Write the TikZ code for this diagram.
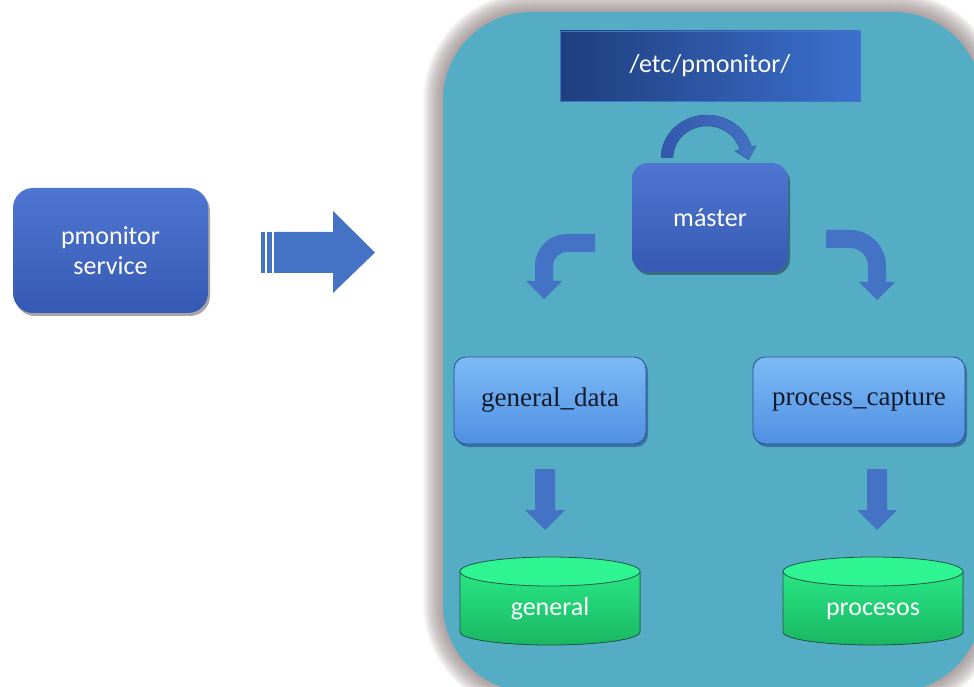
\documentclass[tikz,border=0pt]{standalone}
\usepackage{fontspec}
\setmainfont{Liberation Serif}
\newfontfamily\calfont{Carlito}
\usetikzlibrary{calc,shadows}

\definecolor{panelteal}{RGB}{84,173,196}
\definecolor{halogray}{RGB}{140,124,124}
\definecolor{arrowblue}{RGB}{68,114,196}
\definecolor{arrowdark}{RGB}{50,88,172}
\definecolor{boxtop}{RGB}{78,118,208}
\definecolor{boxbot}{RGB}{54,90,180}
\definecolor{hdrleft}{RGB}{30,62,125}
\definecolor{hdrright}{RGB}{60,112,206}
\definecolor{bevtop}{RGB}{124,186,246}
\definecolor{bevbot}{RGB}{80,144,226}
\definecolor{bevedge}{RGB}{40,78,140}
\definecolor{dbtop}{RGB}{46,244,146}
\definecolor{dbbodytop}{RGB}{40,230,132}
\definecolor{dbbodybot}{RGB}{26,182,98}
\definecolor{dbedge}{RGB}{34,86,72}
\definecolor{labeldark}{RGB}{18,26,44}

\tikzset{
  calibri/.style={font=\calfont\fontsize{26}{30}\selectfont, text=white},
  seriflabel/.style={font=\fontsize{27}{30}\selectfont, text=labeldark},
  darkbox/.style={calibri, top color=boxtop, bottom color=boxbot, inner sep=0pt,
    align=center, drop shadow={shadow xshift=2pt, shadow yshift=-3pt, opacity=0.35, fill=black}},
  bevelbox/.style={seriflabel, rounded corners=12pt, top color=bevtop, bottom color=bevbot,
    draw=bevedge, line width=0.8pt, minimum height=87pt, inner sep=0pt,
    drop shadow={shadow xshift=2pt, shadow yshift=-3pt, opacity=0.6, fill=bevedge}},
  blockarrow/.style={fill=arrowblue},
}

% cylinder store: #1 centre x, #2 node name, #3 label
\newcommand{\dbstore}[3]{%
  \fill[top color=dbbodytop, bottom color=dbbodybot]
    (#1-90,114.5) -- (#1-90,54) arc[start angle=180, end angle=360, x radius=90, y radius=13]
    -- (#1+90,114.5) -- cycle;
  \draw[dbedge, line width=0.8pt]
    (#1-90,114.5) -- (#1-90,54) arc[start angle=180, end angle=360, x radius=90, y radius=13]
    -- (#1+90,114.5);
  \filldraw[fill=dbtop, draw=dbedge, line width=0.8pt] (#1,114.5) ellipse[x radius=90, y radius=14.5];
  \node[calibri, anchor=base] (#2) at (#1,71) {#3};
}

\begin{document}
\begin{tikzpicture}[x=1pt, y=1pt]
\useasboundingbox (0,0) rectangle (974,686);
\fill[white] (0,0) rectangle (974,686);

% soft grey halo around the directory panel
\foreach \i in {1,...,20}{
  \pgfmathsetmacro\rr{88+\i}
  \fill[halogray, opacity=0.05, rounded corners=\rr pt] (443-\i,-6-\i) rectangle (982+\i,674+\i);
}
\fill[panelteal, rounded corners=88pt] (443,-6) rectangle (982,674);

% service box and the wide arrow into the panel
\node[darkbox, rounded corners=20pt, minimum width=195pt, minimum height=125pt]
  (service) at (110.5,435.5) {pmonitor\\service};
\fill[blockarrow] (261,413) rectangle (265,454);
\fill[blockarrow] (267,413) rectangle (272,454);
\fill[blockarrow] (274,413) -- (333,413) -- (333,393) -- (375,433.5) -- (333,475)
  -- (333,454) -- (274,454) -- cycle;

% directory header
\node[calibri, left color=hdrleft, right color=hdrright, draw=arrowblue, line width=0.6pt,
  minimum width=300pt, minimum height=70pt, inner sep=0pt] (etc) at (710,620) {/etc/pmonitor/};

% master process
\node[darkbox, rounded corners=16pt, minimum width=156pt, minimum height=109pt]
  (master) at (710,468.5) {máster};

% loop arrow over the master box
\fill[left color=arrowdark, right color=arrowblue]
  (661,528) arc[start angle=180, end angle=15, x radius=46, y radius=43]
  -- (756.3,540.5) -- (748.6,526.1) -- (734.9,535.0) -- (739.8,536.3)
  arc[start angle=15, end angle=180, x radius=34, y radius=32] -- cycle;

% bent arrows towards the two workers
\fill[blockarrow] (595,452) -- (567,452) arc[start angle=90, end angle=180, radius=32]
  -- (535,405) -- (526,405) -- (544,387) -- (562,405) -- (553,405) -- (553,420)
  arc[start angle=180, end angle=90, radius=14] -- (595,434) -- cycle;
\fill[blockarrow] (826,456) -- (850,456) arc[start angle=90, end angle=0, radius=36]
  -- (886,404) -- (895,404) -- (877,386) -- (859,404) -- (868,404) -- (868,420)
  arc[start angle=0, end angle=90, radius=18] -- (826,438) -- cycle;

% worker processes
\node[bevelbox, minimum width=192pt] (gd) at (550,285.5) {general\_data};
\node[bevelbox, minimum width=212pt] (pc) at (859,285.5) {process\_capture};

% down arrows into the stores
\fill[blockarrow] (535,217) -- (555,217) -- (555,176) -- (565,176) -- (545,156)
  -- (525,176) -- (535,176) -- cycle;
\fill[blockarrow] (867,217) -- (887,217) -- (887,176) -- (897,176) -- (877,156)
  -- (857,176) -- (867,176) -- cycle;

% data stores
\dbstore{550}{general}{general}
\dbstore{873}{procesos}{procesos}
\end{tikzpicture}
\end{document}
